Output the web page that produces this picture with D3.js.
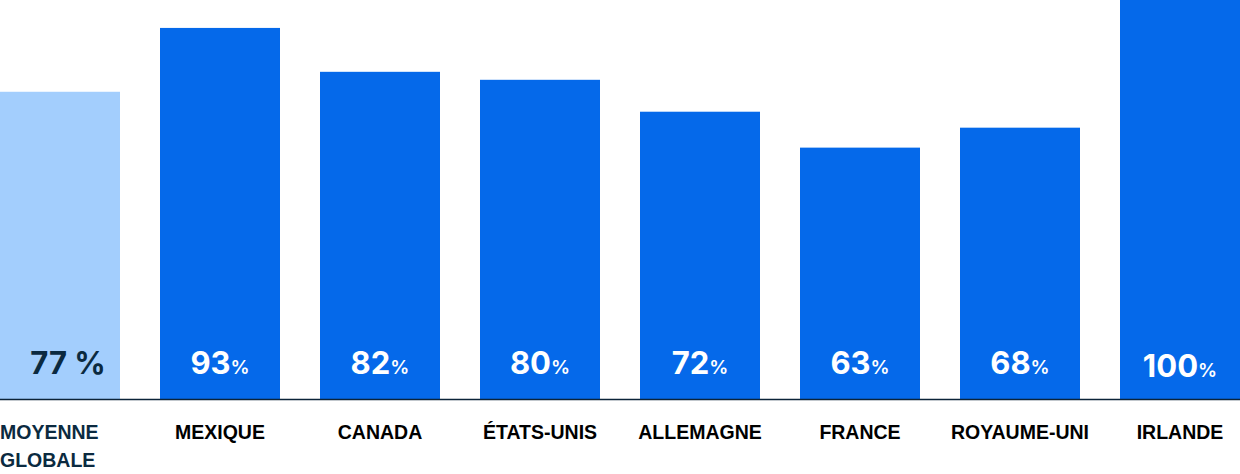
<!DOCTYPE html>
<html><head><meta charset="utf-8">
<script src="https://cdn.jsdelivr.net/npm/d3@7"></script>
<style>
html,body{margin:0;padding:0;background:#fff;}
svg{display:block;font-family:Inter, "Noto Sans", sans-serif;font-variant-numeric:proportional-nums;font-feature-settings:"pnum" 1;}
</style></head>
<body><svg id="c" width="1240" height="474"></svg>
<script>
const categories = ["MOYENNE GLOBALE","MEXIQUE","CANADA","ÉTATS-UNIS","ALLEMAGNE","FRANCE","ROYAUME-UNI","IRLANDE"];
const values = [77,93,82,80,72,63,68,100];
const highlight = [true,false,false,false,false,false,false,false];

const W=1240, baseY=399;
const svg=d3.select("#c");
const x=d3.scaleBand().domain(categories).range([0,W]).paddingInner(0.25).paddingOuter(0);
const y=d3.scaleLinear().domain([0,100]).range([baseY,0]);

const g=svg.append("g");
g.selectAll("rect").data(categories).join("rect")
 .attr("x",d=>x(d)).attr("width",x.bandwidth())
 .attr("y",(d,i)=>y(values[i])).attr("height",(d,i)=>baseY-y(values[i]))
 .attr("fill",(d,i)=>highlight[i]?"#a3cefd":"#0569ea");

svg.append("line").attr("x1",0).attr("x2",W).attr("y1",baseY+0.5).attr("y2",baseY+0.5)
 .attr("stroke","#0b2338").attr("stroke-width",1.5);

// value labels
categories.forEach((c,i)=>{
  const cx=x(c)+x.bandwidth()/2;
  if(highlight[i]){
    svg.append("text").attr("x",cx+8).attr("y",374).attr("text-anchor","middle")
      .attr("fill","#0b2a40").attr("font-weight",700).attr("font-size",31)
      .text(values[i]+" %");
  } else {
    const t=svg.append("text").attr("x",cx).attr("y",values[i]>=100?377:374).attr("text-anchor","middle")
      .attr("fill","#fff").attr("font-weight",700);
    t.append("tspan").attr("font-size",31).text(values[i]);
    t.append("tspan").attr("font-size",19).attr("font-weight",600).text("%");
  }
});

// category labels
const axis=d3.axisBottom(x).tickSize(0).tickPadding(0);
const ag=svg.append("g").attr("transform",`translate(0,${baseY})`).call(axis);
ag.select(".domain").remove();
ag.selectAll(".tick text").remove();
ag.selectAll(".tick").each(function(d,i){
  const tk=d3.select(this);
  if(highlight[i]){
    const words=d.split(" ");
    const t=tk.append("text").attr("x",-x.bandwidth()/2).attr("text-anchor","start")
      .attr("fill","#0b2a40").attr("font-weight",700).attr("font-size",19.5);
    words.forEach((w,k)=>t.append("tspan").attr("x",-x.bandwidth()/2).attr("y",40+k*28).text(w));
  } else {
    tk.append("text").attr("y",40).attr("text-anchor","middle").attr("fill","#000")
      .attr("font-weight",700).attr("font-size",19.5).text(d);
  }
});
</script></body></html>
